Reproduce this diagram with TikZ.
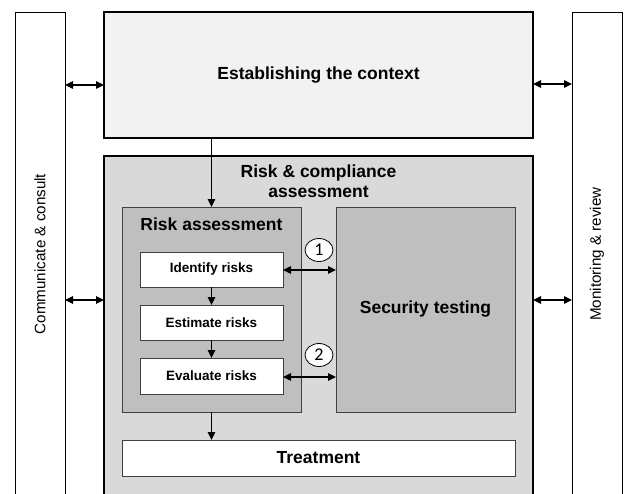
\documentclass[tikz,border=0pt]{standalone}
\usepackage{fontspec}
\setmainfont{Liberation Sans}
\newfontfamily\numfont{Carlito}
\usetikzlibrary{arrows.meta,shapes.geometric}
\definecolor{ctxfill}{HTML}{F2F2F2}
\definecolor{rcafill}{HTML}{D9D9D9}
\definecolor{rafill}{HTML}{BFBFBF}
\definecolor{thinline}{HTML}{404040}
\tikzset{
  col/.style={draw=black, line width=0.8pt, fill=white, inner sep=0pt, outer sep=0pt,
    minimum width=50pt, minimum height=484pt, anchor=north west},
  bigbox/.style={draw=black, line width=2pt, inner sep=0pt, outer sep=0pt, anchor=north west},
  inbox/.style={draw=thinline, line width=0.8pt, inner sep=0pt, outer sep=0pt, anchor=north west},
  bigtxt/.style={font=\bfseries\fontsize{17.5}{20}\selectfont},
  smalltxt/.style={font=\bfseries\fontsize{13.5}{16}\selectfont},
  coltxt/.style={font=\fontsize{15.2}{18}\selectfont, rotate=90},
  numc/.style={ellipse, draw=black, line width=0.8pt, fill=white, minimum width=28pt,
    minimum height=23pt, inner sep=0pt, font=\numfont\fontsize{18}{20}\selectfont},
  arr/.style={line width=1.2pt, -{Triangle[length=8pt,width=7.5pt]}},
  dbl/.style={line width=1.2pt, {Triangle[length=8pt,width=7.5pt]}-{Triangle[length=8pt,width=7.5pt]}}
}
\begin{document}
\begin{tikzpicture}[x=1pt,y=-1pt]
\useasboundingbox (0,0) rectangle (624,493);
\clip (0,0) rectangle (624,493);
\fill[white] (0,0) rectangle (624,493);
% side columns
\node[col] (cc) at (15,12) {};
\node[coltxt] (cctext) at (cc.center) {Communicate \& consult};
\node[col] (mr) at (572,12) {};
\node[coltxt] (mrtext) at (mr.center) {Monitoring \& review};
% context
\node[bigbox, fill=ctxfill, minimum width=429pt, minimum height=126pt, bigtxt] (ctx) at (104,12) {Establishing the context};
% risk & compliance
\node[bigbox, fill=rcafill, minimum width=429pt, minimum height=350pt] (rca) at (104,156) {};
\node[bigtxt, align=center, anchor=base] (rcatext) at (318.5,197) {Risk \& compliance\\assessment};
% risk assessment
\node[inbox, fill=rafill, minimum width=179pt, minimum height=205pt] (ra) at (122,207) {};
\node[bigtxt, anchor=base] (ratext) at (211.5,230) {Risk assessment};
\node[inbox, fill=white, minimum width=143pt, minimum height=35pt, smalltxt] (id) at (140,252) {Identify risks};
\node[inbox, fill=white, minimum width=143pt, minimum height=35pt, smalltxt] (est) at (140,305) {Estimate risks};
\node[inbox, fill=white, minimum width=143pt, minimum height=36pt, smalltxt] (eva) at (140,358) {Evaluate risks};
% security testing
\node[inbox, fill=rafill, minimum width=179pt, minimum height=205pt, bigtxt] (st) at (336,207) {Security testing};
% treatment
\node[inbox, fill=white, minimum width=393pt, minimum height=36pt, bigtxt] (tr) at (122,440) {Treatment};
% numbered circles
\node[numc] (n1) at (319,250) {1};
\node[numc] (n2) at (319,355) {2};
% arrows
\draw[dbl] (cc.east |- 0,85) -- (ctx.west |- 0,85);
\draw[dbl] (ctx.east |- 0,84) -- (mr.west |- 0,84);
\draw[dbl] (cc.east |- 0,300) -- (rca.west |- 0,300);
\draw[dbl] (rca.east |- 0,300) -- (mr.west |- 0,300);
\draw[arr] (ctx.south -| ra.north) -- (ra.north);
\draw[arr] (id.south) -- (est.north);
\draw[arr] (est.south) -- (eva.north);
\draw[arr] (ra.south) -- (tr.north -| ra.south);
\draw[dbl] (id.east |- 0,270) -- (st.west |- 0,270);
\draw[dbl] (eva.east |- 0,377) -- (st.west |- 0,377);
\end{tikzpicture}
\end{document}
